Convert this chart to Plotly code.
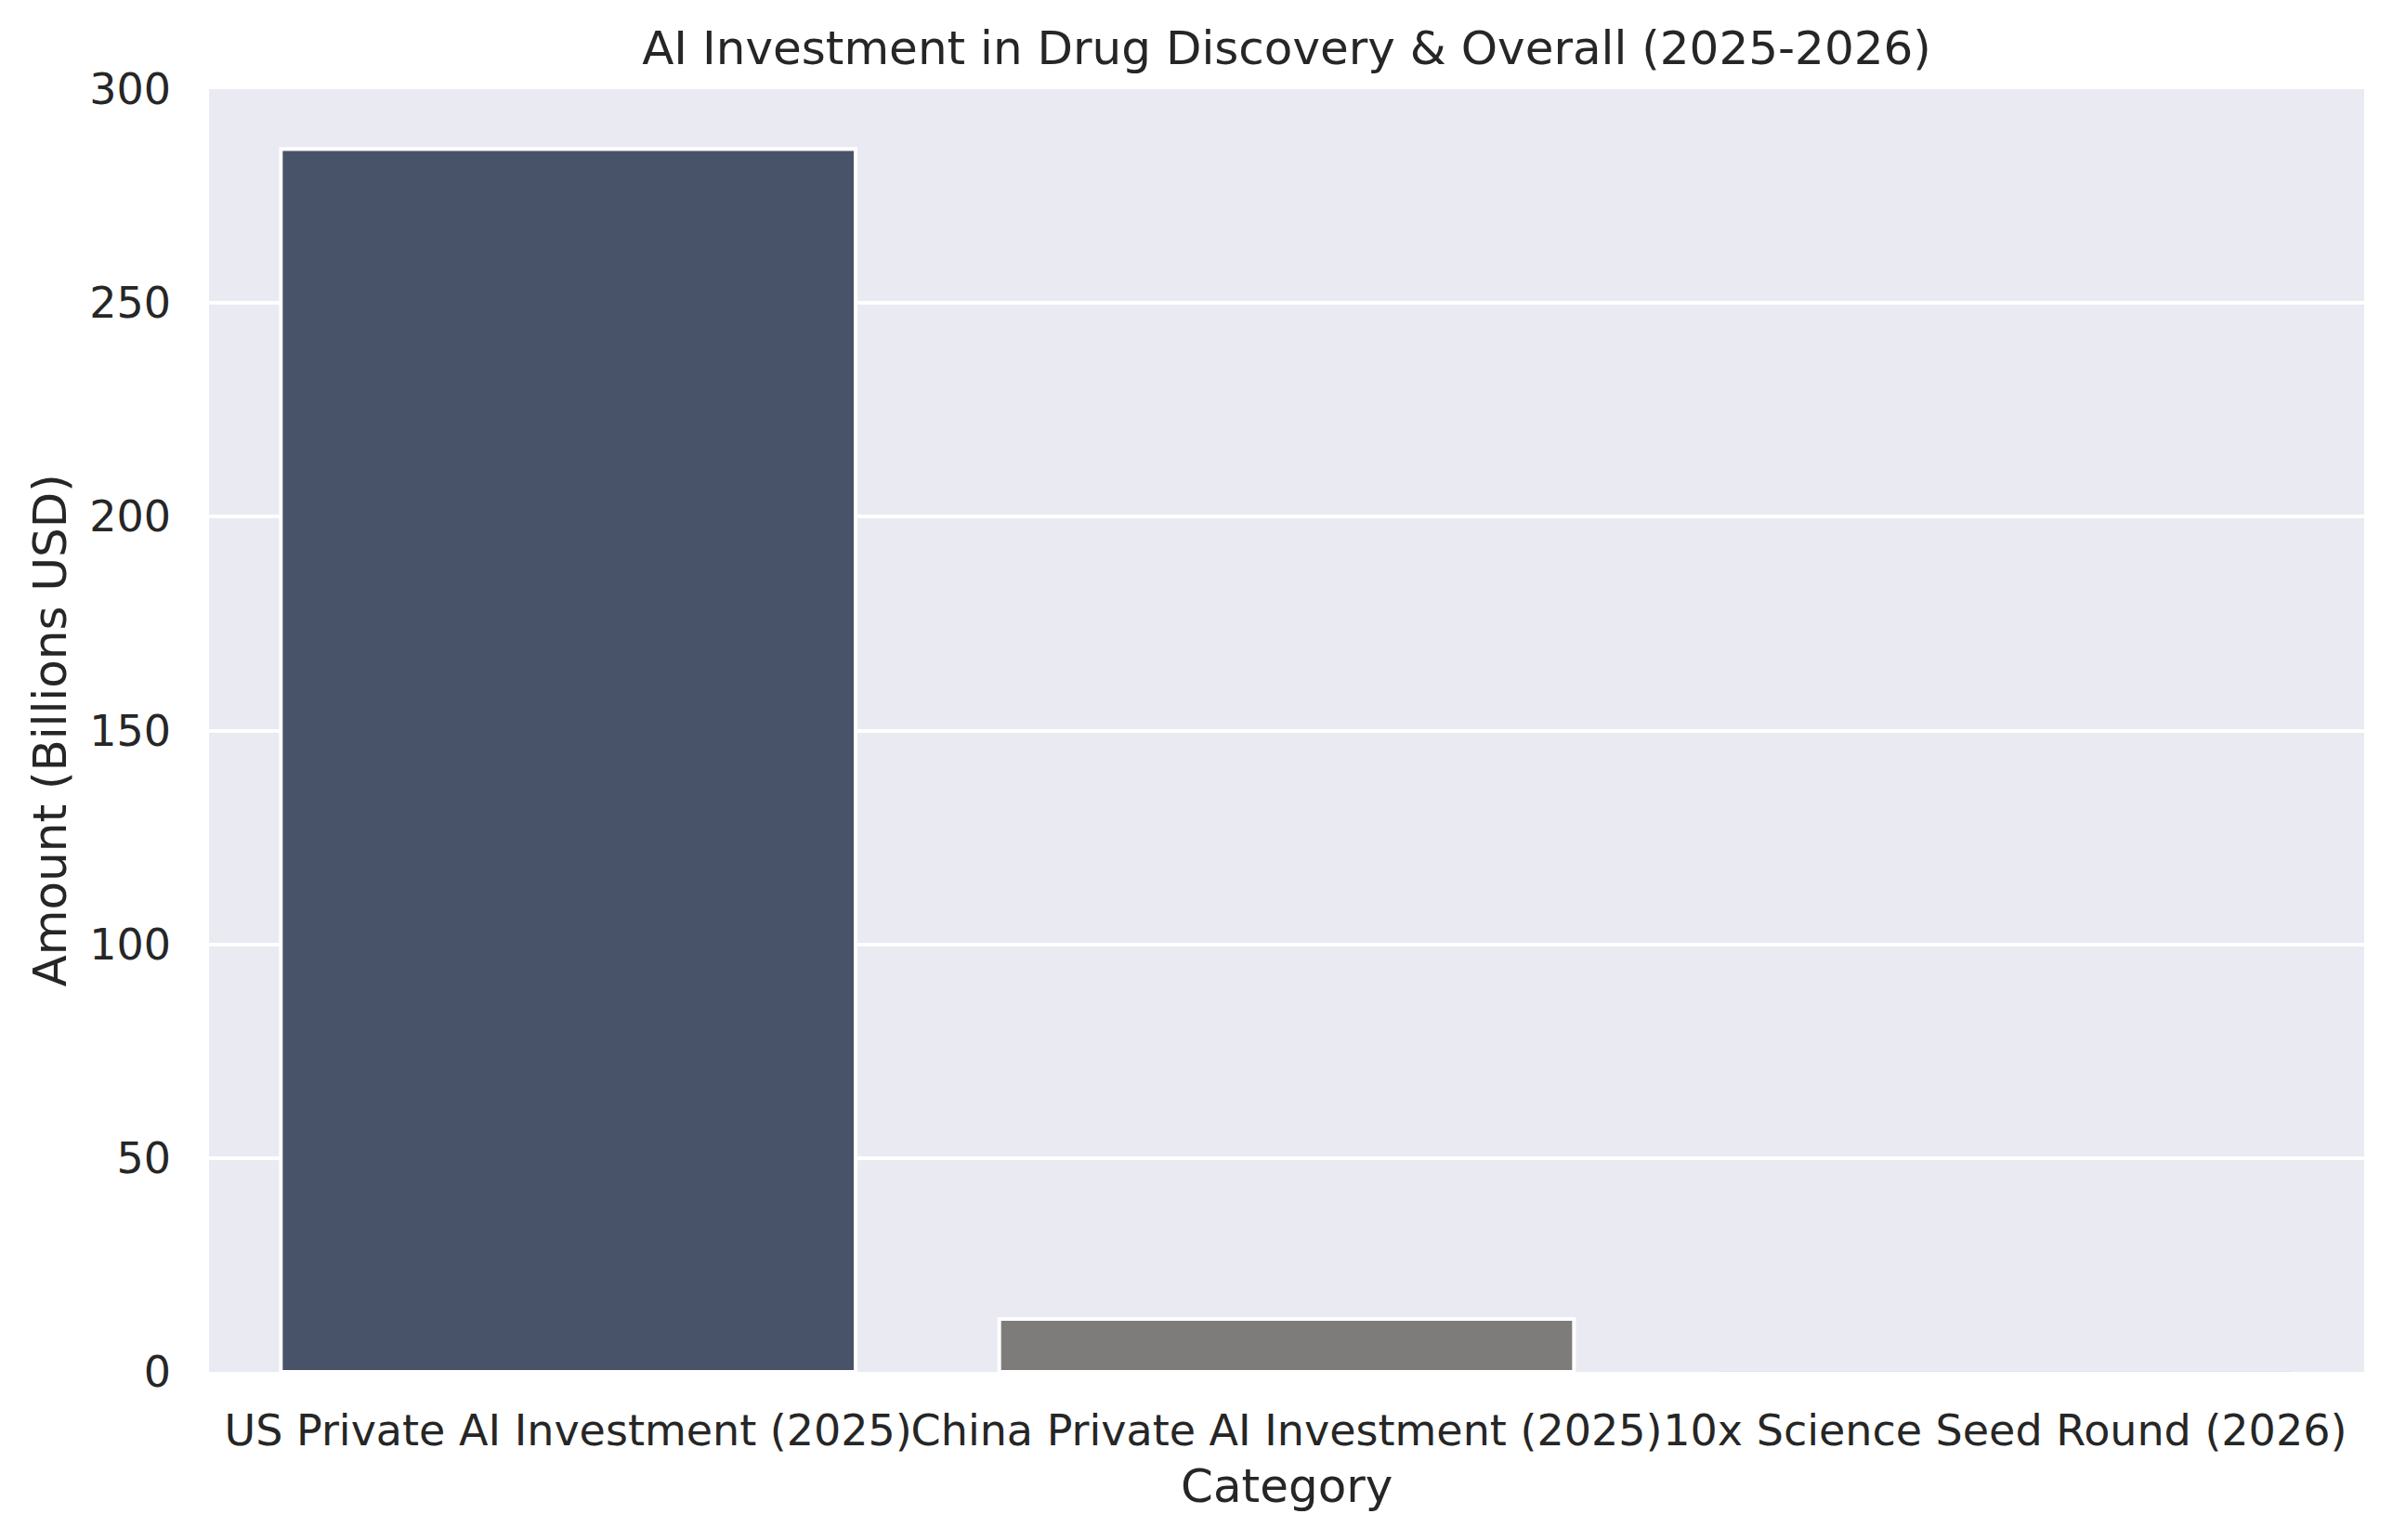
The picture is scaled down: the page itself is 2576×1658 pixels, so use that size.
import plotly.graph_objects as go

# ---- data ----
categories = [
    "US Private AI Investment (2025)",
    "China Private AI Investment (2025)",
    "10x Science Seed Round (2026)",
]
amounts_billion_usd = [286.0, 12.4, 0.005]

# ---- style ----
bar_colors = ["#48536a", "#7e7c7a", "#e6e4ea"]
bar_edge_widths = [4, 4, 0]

title_text = "AI Investment in Drug Discovery & Overall (2025-2026)"
x_title = "Category"
y_title = "Amount (Billions USD)"
y_ticks = [0, 50, 100, 150, 200, 250, 300]

W, H = 2576, 1658
OFF = 8  # page body margin
ML, MR, MT, MB = 225 - OFF, 31 + OFF, 96 - OFF, 181 + OFF
TXT = "#262626"
FONT = "DejaVu Sans"

fig = go.Figure()
fig.add_trace(go.Bar(
    x=categories,
    y=amounts_billion_usd,
    marker=dict(color=bar_colors, line=dict(color="white", width=bar_edge_widths)),
    width=0.8,
    showlegend=False,
))

fig.update_layout(
    width=W, height=H, autosize=False,
    margin=dict(l=ML, r=MR, t=MT, b=MB, pad=0),
    paper_bgcolor="white",
    plot_bgcolor="#eaeaf2",
    font=dict(family=FONT, color=TXT, size=46),
    title=dict(
        text=title_text,
        font=dict(family=FONT, size=50, color=TXT),
        x=0.5, xanchor="center", xref="paper",
        y=1 - (51 - OFF) / H, yanchor="middle", yref="container",
    ),
)

fig.update_xaxes(
    type="category",
    range=[-0.5, 2.5],
    automargin=False,
    tickangle=0,
    showgrid=False,
    zeroline=False,
    showline=False,
    ticks="",
    tickfont=dict(family=FONT, size=46, color=TXT),
    ticklabelstandoff=32,
)
fig.update_yaxes(
    range=[0, 300],
    tickvals=y_ticks,
    automargin=False,
    showgrid=True,
    gridcolor="white",
    gridwidth=4,
    zeroline=False,
    showline=False,
    ticks="",
    tickfont=dict(family=FONT, size=46, color=TXT),
    ticklabelstandoff=40,
)

# axis titles as annotations for exact placement
fig.add_annotation(
    text=x_title, xref="paper", yref="paper", x=0.5, y=0,
    xanchor="center", yanchor="middle", yshift=-123, showarrow=False,
    font=dict(family=FONT, size=50, color=TXT),
)
fig.add_annotation(
    text=y_title, xref="paper", yref="paper", x=0, y=0.5,
    xanchor="center", yanchor="middle", xshift=-172, textangle=-90,
    showarrow=False, font=dict(family=FONT, size=50, color=TXT),
)

fig.write_html("out.html")
